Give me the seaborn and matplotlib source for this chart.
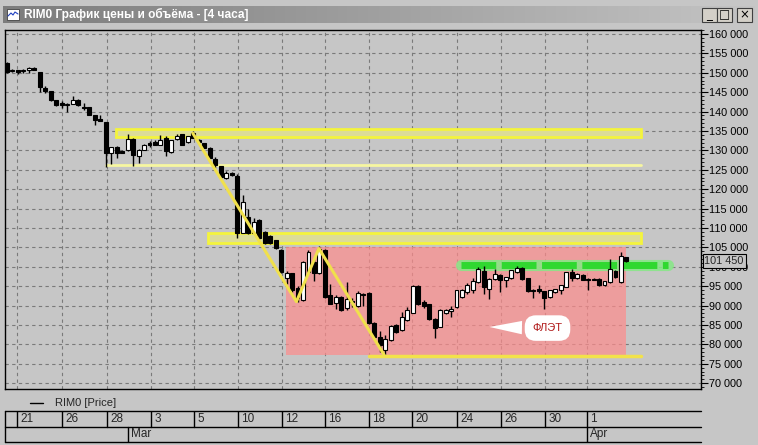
import numpy as np
import pandas as pd
import matplotlib
matplotlib.use("Agg")
import matplotlib.pyplot as plt
import matplotlib.transforms as mtransforms
from matplotlib.patches import Rectangle
import seaborn as sns

# =========================
# DATA (4h candles, RIM0)
# =========================
opens = [152500, 150400, 150600, 150400, 150800, 151300, 150200, 146000, 145200, 142900,
         142200, 141700, 142000, 143100, 141300, 141100, 139000, 138100, 137300, 129200,
         130900, 129800, 130000, 133000, 128500, 130200, 131900, 132100, 131500, 133300,
         129500, 133000, 134100, 132100, 134400, 132700, 131800, 130700, 127800, 125900,
         122900, 124200, 123500, 108700, 112900, 108700, 112000, 109000, 108000, 106900,
         104300, 97200, 98300, 94500, 91500, 98700, 101300, 98300, 104300, 92700,
         90600, 92300, 89400, 91300, 90000, 93000, 93200, 85500, 82000, 78600,
         81100, 84900, 83700, 86300, 88200, 95000, 90800, 90300, 86500, 84600,
         88000, 88500, 89700, 92200, 93500, 94000, 96000, 99000, 94300, 96900,
         98000, 96600, 97100, 98600, 99700, 97100, 94000, 94200, 93700, 92200,
         93500, 93900, 94900, 98600, 97100, 97900, 96900, 96900, 96900, 95200,
         96000, 99000, 96000, 102400]
highs = [152800, 150900, 150700, 150900, 151400, 151400, 150300, 146600, 145300, 143000,
         142700, 142100, 144000, 143200, 142100, 141200, 139100, 139200, 137400, 131000,
         131200, 130000, 134300, 133300, 130300, 131600, 132500, 132700, 133900, 133700,
         132700, 134300, 134300, 133800, 135000, 132900, 131900, 130800, 128300, 126000,
         124800, 124500, 123800, 118500, 114800, 112500, 112300, 109300, 108200, 107000,
         104500, 98800, 98500, 95000, 101600, 104200, 102000, 105400, 104500, 95500,
         92700, 92500, 96000, 92000, 93700, 93200, 93400, 85700, 83400, 82500,
         84900, 85200, 88300, 89700, 95200, 95200, 91500, 90500, 86700, 89200,
         89200, 89800, 94000, 94200, 95800, 97000, 99900, 100300, 97000, 99500,
         98200, 97400, 99300, 100300, 99900, 97200, 94200, 95300, 93800, 94000,
         94300, 95300, 98700, 99400, 98300, 98100, 97100, 97200, 97000, 96400,
         102000, 99200, 103700, 102500]
lows = [150000, 150200, 149600, 149900, 149900, 150700, 145000, 144800, 142700, 141500,
        140900, 140000, 141900, 141500, 140300, 139100, 136500, 137600, 125700, 126600,
        128100, 129300, 129900, 126100, 126800, 130100, 130900, 131400, 131400, 128500,
        129400, 132800, 131300, 132000, 133200, 132000, 130600, 128000, 125500, 122800,
        122500, 123500, 107500, 108600, 108500, 108600, 107200, 105900, 105800, 104500,
        98500, 95500, 93500, 91000, 91300, 98500, 96300, 98100, 92000, 90300,
        89000, 88600, 88900, 89700, 89600, 90000, 85300, 81800, 78000, 77000,
        80900, 83000, 83500, 86100, 88000, 90100, 89500, 86300, 81600, 84400,
        87800, 87100, 89500, 92000, 93100, 93300, 95800, 93000, 91800, 96700,
        93500, 94700, 96900, 98400, 96700, 93500, 91900, 93300, 89200, 92000,
        93300, 93100, 94700, 96400, 96900, 96500, 94100, 96500, 95000, 95000,
        95800, 97100, 95800, 101300]
closes = [150200, 150800, 150300, 150800, 151300, 150800, 146300, 145200, 142900, 141800,
          141600, 142000, 143100, 141600, 141000, 139200, 137900, 137700, 129200, 130900,
          129200, 129400, 133000, 128700, 130200, 131500, 131500, 131500, 132600, 129800,
          132600, 133700, 131400, 133700, 133300, 132100, 130700, 128100, 126300, 123100,
          124200, 123700, 108700, 116700, 108700, 111600, 107400, 106100, 106100, 104800,
          98700, 98500, 94000, 92000, 101300, 103900, 98500, 104600, 92300, 90500,
          92300, 88800, 91700, 90800, 93200, 92800, 85500, 82000, 79800, 81500,
          84700, 83300, 87100, 88800, 95000, 90300, 90000, 86500, 84100, 88800,
          88800, 89200, 93900, 94000, 95200, 96300, 99400, 94700, 96900, 98200,
          96600, 97300, 99200, 99700, 96900, 93700, 93700, 93700, 92000, 93900,
          94200, 95200, 98600, 97100, 98200, 96700, 96600, 96700, 95200, 96300,
          99400, 97300, 102900, 101450]

date_labels = ["21", "26", "28", "3", "5", "10", "12", "16", "18", "20", "24", "26", "30", "1"]
date_pos = [1.8, 10.0, 18.2, 26.3, 34.1, 42.1, 50.1, 58.0, 66.0, 73.9, 82.1, 90.1, 98.1, 105.8]
month_labels = ["Mar", "Apr"]
month_pos = [22.0, 105.8]

# drawn levels (price, from candle, to candle)
band_levels = [(133530, 135440, 19.9, 115.6), (106220, 108640, 36.6, 115.6)]
thin_level = (126240, 18.0, 115.6)
floor_level = (77000, 66.0, 115.6)
green_level = (100470, 82.8, 120.5)
flat_box = (50.9, 112.9, 77300, 105200)
zig_x = [33.9, 52.8, 56.9, 68.8]
zig_y = [134410, 91010, 104720, 77280]
last_price = 101450

df = pd.DataFrame({"open": opens, "high": highs, "low": lows, "close": closes})
df["idx"] = np.arange(len(df))
df["up"] = df["close"] >= df["open"]

# =========================
# STYLE
# =========================
sns.set_theme(style="white")
plt.rcParams["font.family"] = ["Liberation Sans", "DejaVu Sans"]
WIN = "#c6c6c6"

W, H = 758, 445
fig = plt.figure(figsize=(W / 100, H / 100), dpi=100)
fig.patch.set_facecolor(WIN)

# background canvas in pixel coords (title bar, legend)
bg = fig.add_axes([0, 0, 1, 1], zorder=0)
bg.set_xlim(0, W)
bg.set_ylim(H, 0)
bg.axis("off")
bg.set_facecolor(WIN)

grad = np.linspace(0, 1, 256).reshape(1, -1)
bg.imshow(grad, extent=[3, 755, 23, 6], aspect="auto",
          cmap=matplotlib.colors.LinearSegmentedColormap.from_list("t", ["#7c7c7c", "#c4c4c4"]),
          zorder=1)
bg.add_patch(Rectangle((7, 9), 12, 11, fc="white", ec="#404040", lw=0.6, zorder=2))
bg.plot([8, 11, 13, 15, 18], [16, 13, 15, 12, 14], color="#2040c0", lw=0.8, zorder=3)
bg.text(24, 14.5, "RIM0 График цены и объёма - [4 часа]", color="white",
        fontsize=8.6, fontweight="bold", va="center", ha="left", zorder=3)
for bx, sym in [(702, "_"), (717, "□"), (737, "×")]:
    bg.add_patch(Rectangle((bx, 8), 15, 14, fc="#d4d0c8", ec="#404040", lw=0.8, zorder=2))
    bg.text(bx + 7.5, 14.5, sym, fontsize=8.5, ha="center", va="center",
            color="black", zorder=3, family=["DejaVu Sans"])

# legend row
bg.plot([30, 43], [403, 403], color="black", lw=1)
bg.text(55, 403, "RIM0 [Price]", fontsize=8, va="center", ha="left")

# =========================
# MAIN CHART
# =========================
ax = fig.add_axes([5 / W, 1 - 389 / H, 696 / W, 359 / H], zorder=1)
ax.set_facecolor(WIN)
ax.set_xlim(-0.36, 126.6)
ax.set_ylim(68500, 161030)

# flat zone
ax.add_patch(Rectangle((flat_box[0], flat_box[2]), flat_box[1] - flat_box[0],
                       flat_box[3] - flat_box[2], fc=(1.0, 0.55, 0.55), alpha=0.7,
                       ec="none", zorder=1))

# grid
ax.set_yticks(np.arange(70000, 160001, 5000))
ax.set_yticks(np.arange(69000, 161001, 1000), minor=True)
ax.set_xticks(date_pos)
ax.set_xticklabels([])
ax.grid(True, which="major", color="#7a7a7a", lw=0.8, ls=(0, (3, 3)))
ax.set_axisbelow(True)
ax.yaxis.tick_right()
ax.yaxis.set_major_formatter(plt.FuncFormatter(lambda v, p: f"{int(v):,}".replace(",", " ")))
ax.tick_params(axis="y", which="major", length=5, width=0.8, color="black",
               labelsize=7.8, pad=1, labelcolor="black", direction="out")
ax.tick_params(axis="y", which="minor", length=2.5, width=0.6, color="black", direction="out")
ax.tick_params(axis="x", length=0)
for s in ax.spines.values():
    s.set_color("black")
    s.set_linewidth(1)

# yellow bands / levels
for lo, hi, x0, x1 in band_levels:
    ax.add_patch(Rectangle((x0, lo), x1 - x0, hi - lo, fc="#dcdc98", ec="#f4f43c",
                           lw=2, zorder=2))
ax.plot([thin_level[1], thin_level[2]], [thin_level[0]] * 2, color="#f6f6a0", lw=2, zorder=2)
ax.plot([floor_level[1], floor_level[2]], [floor_level[0]] * 2, color="#f2e24a", lw=2.5, zorder=5)
ax.plot([green_level[1], green_level[2]], [green_level[0]] * 2, color="#86e886", lw=8,
        alpha=0.85, zorder=2)
ax.plot([green_level[1], green_level[2]], [green_level[0]] * 2, color="#30d830", lw=5,
        ls=(0, (5, 0.8)), zorder=2)

# candles
body_w = 0.72
ax.vlines(df["idx"], df["low"], df["high"], color="black", lw=1, zorder=3)
body_lo = df[["open", "close"]].min(axis=1)
body_h = (df["open"] - df["close"]).abs().clip(lower=200)
ax.bar(df["idx"], body_h, bottom=body_lo, width=body_w,
       color=np.where(df["up"], "white", "black"), edgecolor="black", lw=0.8, zorder=4)

# zigzag
sns.lineplot(x=zig_x, y=zig_y, ax=ax, color="#f0e04c", lw=2.2, sort=False, zorder=6)

# flat callout
ax.annotate("ФЛЭТ", xy=(87.5, 84500), xytext=(98.6, 84200), ha="center", va="center",
            fontsize=8, color="#b01818", zorder=7,
            bbox=dict(boxstyle="round,pad=0.7,rounding_size=1.0", fc="white", ec="none"),
            arrowprops=dict(arrowstyle="wedge,tail_width=1.2,shrink_factor=0.5",
                            fc="white", ec="none"))

# last price marker (sits over the 100 000 label, as in the terminal)
trans = mtransforms.blended_transform_factory(ax.transAxes, ax.transData)
ax.text(1.005, last_price, f"{last_price:,}".replace(",", " "), transform=trans,
        ha="left", va="center", fontsize=7.8, zorder=10, clip_on=False,
        bbox=dict(boxstyle="square,pad=0.18", fc=WIN, ec="black", lw=0.8))

# =========================
# DATE STRIP
# =========================
ax2 = fig.add_axes([5 / W, 1 - 442 / H, 696 / W, 31 / H], zorder=1)
ax2.set_xlim(ax.get_xlim())
ax2.set_ylim(0, 2)
ax2.axis("off")
x0, x1 = ax.get_xlim()
for yy in [0, 1, 2]:
    ax2.plot([x0, x1], [yy, yy], color="black", lw=1, clip_on=False)
ax2.plot([x0, x0], [0, 2], color="black", lw=1, clip_on=False)
for p, lab in zip(date_pos, date_labels):
    ax2.plot([p, p], [1, 2], color="black", lw=1)
    ax2.text(p + 0.6, 1.5, lab, fontsize=8.5, ha="left", va="center")
for p, lab in zip(month_pos, month_labels):
    ax2.plot([p, p], [0, 1], color="black", lw=1)
    ax2.text(p + 0.6, 0.5, lab, fontsize=8.5, ha="left", va="center")

fig.savefig("out.png", dpi=100, facecolor=fig.get_facecolor())
